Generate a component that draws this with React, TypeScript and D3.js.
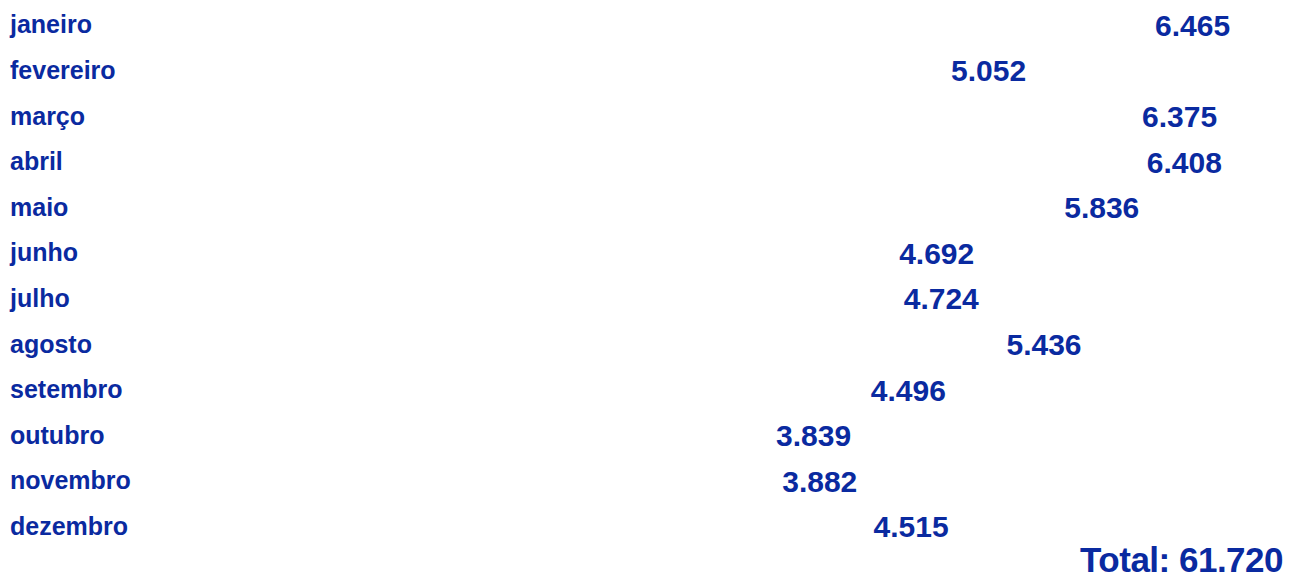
import React from "react";
import * as d3 from "d3";

const months = [
  "janeiro", "fevereiro", "março", "abril", "maio", "junho",
  "julho", "agosto", "setembro", "outubro", "novembro", "dezembro",
];
const values = [6465, 5052, 6375, 6408, 5836, 4692, 4724, 5436, 4496, 3839, 3882, 4515];
const totalLabel = "Total";

const W = 1293;
const H = 579;
const COLOR = "#0a2aa0";
const FONT = "'Liberation Sans', Arial, Helvetica, sans-serif";

const ptBR = d3.formatLocale({ decimal: ",", thousands: ".", grouping: [3], currency: ["R$", ""] });
const fmt = ptBR.format(",d");

export default function App() {
  const y = d3.scaleBand<string>().domain(months).range([2, 549.2]).padding(0);
  const x = d3.scaleLinear().domain([0, d3.max(values) as number]).range([222, 1155]);
  const total = d3.sum(values);

  return (
    <div style={{ position: "absolute", left: 0, top: 0, width: W, height: H, background: "#fff" }}>
      <svg width={W} height={H} style={{ display: "block" }} fontFamily={FONT}>
        {months.map((m, i) => {
          const cy = (y(m) as number) + y.bandwidth() / 2;
          return (
            <g key={m}>
              <rect x={x(0)} y={y(m) as number} width={x(values[i]) - x(0)} height={y.bandwidth()} fill="#ffffff" />
              <text x={10} y={cy + 8.5} fontSize={25} fontWeight={700} fill={COLOR}>
                {m}
              </text>
              <text x={x(values[i])} y={cy + 11} fontSize={30} fontWeight={700} fill={COLOR}>
                {fmt(values[i])}
              </text>
            </g>
          );
        })}
        <text x={1283} y={572} textAnchor="end" fontSize={35} fontWeight={700} fill={COLOR} letterSpacing={-0.5}>
          {`${totalLabel}: ${fmt(total)}`}
        </text>
      </svg>
    </div>
  );
}
